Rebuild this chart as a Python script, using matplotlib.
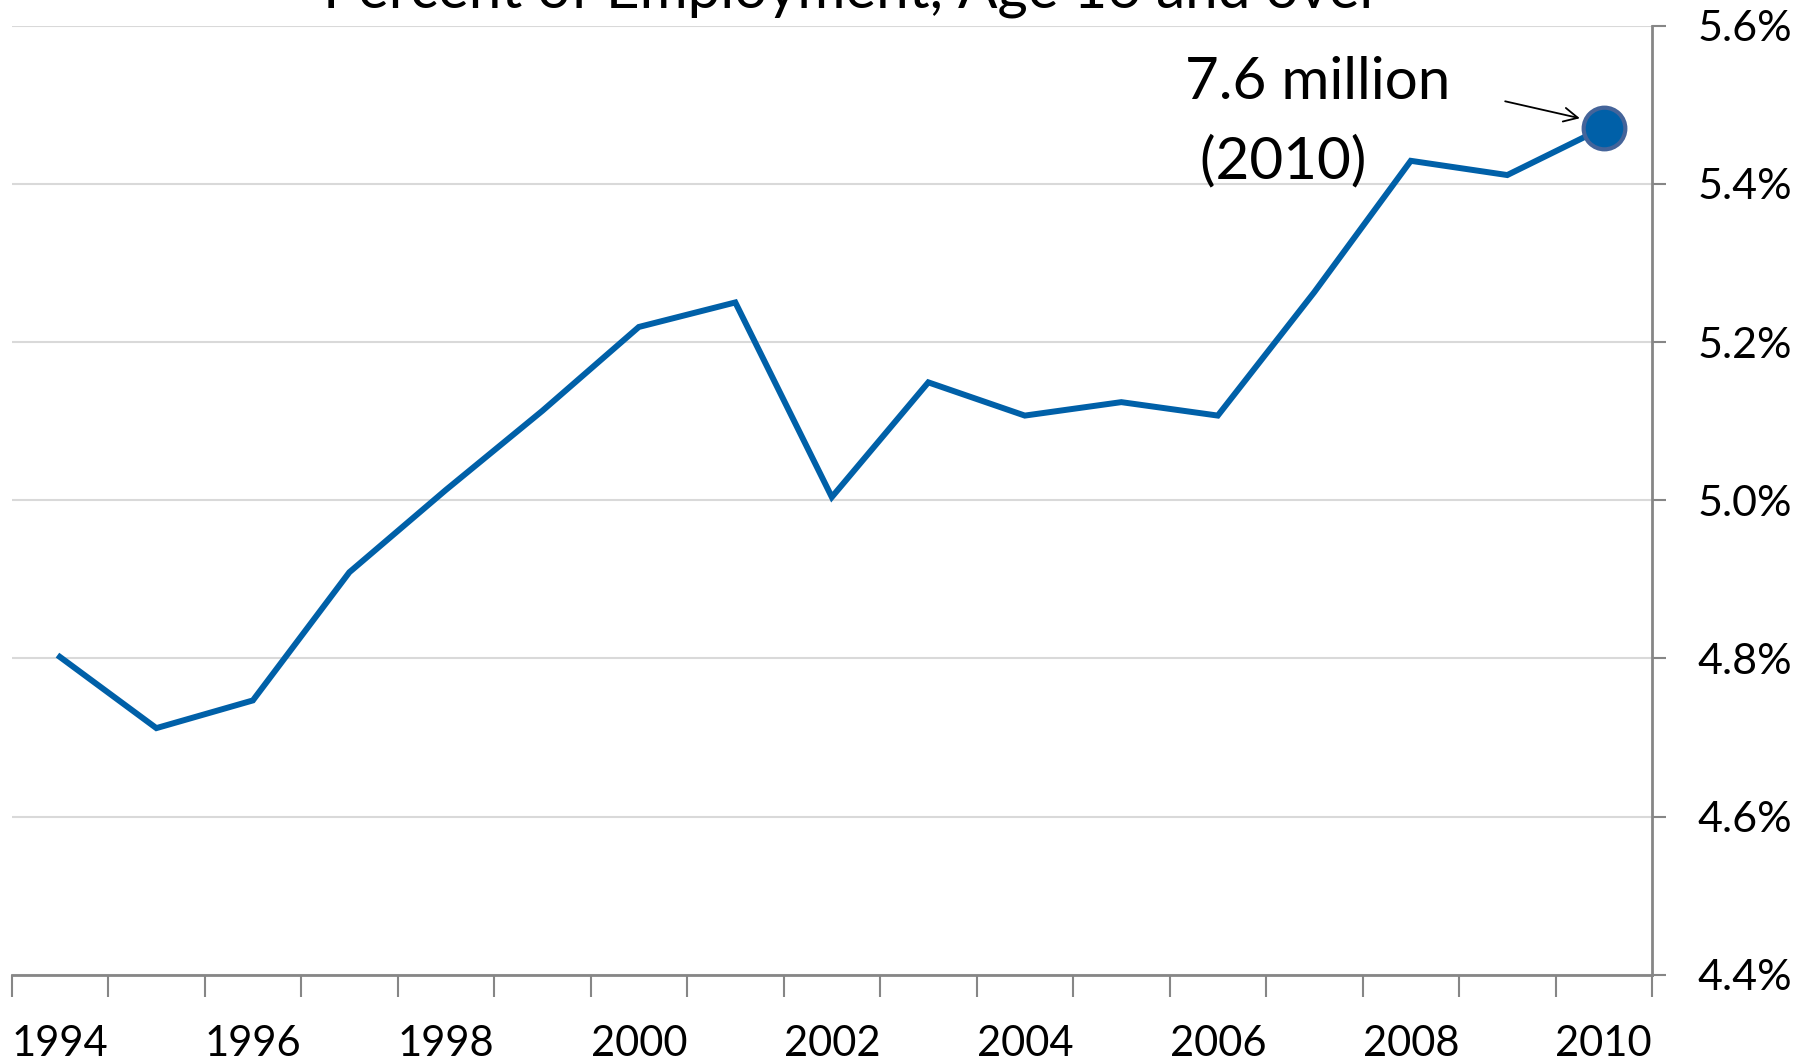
import numpy as np
import matplotlib
matplotlib.use("Agg")
import matplotlib.pyplot as plt
from matplotlib.ticker import FixedLocator, FuncFormatter

plt.rcParams['font.family'] = ['Lato', 'DejaVu Sans']

years = list(range(1994, 2011))
share = [4.802, 4.712, 4.747, 4.909, 5.013, 5.113, 5.219, 5.250, 5.004,
         5.149, 5.107, 5.124, 5.107, 5.263, 5.429, 5.411, 5.471]
yticks = [4.4, 4.6, 4.8, 5.0, 5.2, 5.4, 5.6]
title = "Percent of Employment, Age 16 and over"
note1 = "7.6 million"
note2 = " (2010)"

blue = "#0060A8"
axis_gray = "#868686"
grid_gray = "#D9D9D9"

fig = plt.figure(figsize=(18.16, 10.63), dpi=100)
ax = fig.add_axes([0.0064, 0.0828, 0.9033, 0.8932])

x = np.arange(len(years))
ax.plot(x, share, color=blue, lw=4.3, solid_joinstyle='miter', zorder=3)
ax.plot(x[-1], share[-1], 'o', ms=30, mfc=blue, mec="#44649A", mew=3, zorder=4)

ax.set_xlim(-0.5, len(years) - 0.5)
ax.set_ylim(yticks[0], yticks[-1])

# y axis on the right
ax.yaxis.tick_right()
ax.set_yticks(yticks)
ax.yaxis.set_major_formatter(FuncFormatter(lambda v, p: f"{v:.1f}%"))
ax.tick_params(axis='y', which='major', length=10, width=1.5, color=axis_gray,
               labelsize=31, pad=23)
for lbl in ax.get_yticklabels():
    lbl.set_horizontalalignment('left')
ax.grid(axis='y', color=grid_gray, lw=1.5, zorder=0)

# category x axis: ticks between categories, labels every other year
ax.xaxis.set_major_locator(FixedLocator(np.arange(-0.5, len(years), 1.0)))
ax.xaxis.set_major_formatter(FuncFormatter(lambda v, p: ""))
ax.xaxis.set_minor_locator(FixedLocator(x[::2]))
ax.xaxis.set_minor_formatter(FuncFormatter(lambda v, p: str(years[int(round(v))])))
ax.tick_params(axis='x', which='major', length=16, width=1.5, color=axis_gray, direction='out')
ax.tick_params(axis='x', which='minor', length=0, labelsize=30, pad=36)

for s in ['top', 'left']:
    ax.spines[s].set_visible(False)
for s in ['bottom', 'right']:
    ax.spines[s].set_color(axis_gray)
    ax.spines[s].set_linewidth(2)

# title is clipped at the top of the picture
fig.text(0.469, 1 - 7 / 1063, title, fontsize=42, ha='center', va='baseline')

fig.text(0.6526, 0.922, note1, fontsize=42, ha='left', va='center')
fig.text(0.6526, 0.848, note2, fontsize=42, ha='left', va='center')
ax.annotate("", xy=(x[-1] - 0.22, share[-1] + 0.011), xytext=(x[-1] - 1.05, share[-1] + 0.034),
            arrowprops=dict(arrowstyle='->', color='black', lw=1.3, mutation_scale=25))

fig.savefig("out.png", dpi=100)
